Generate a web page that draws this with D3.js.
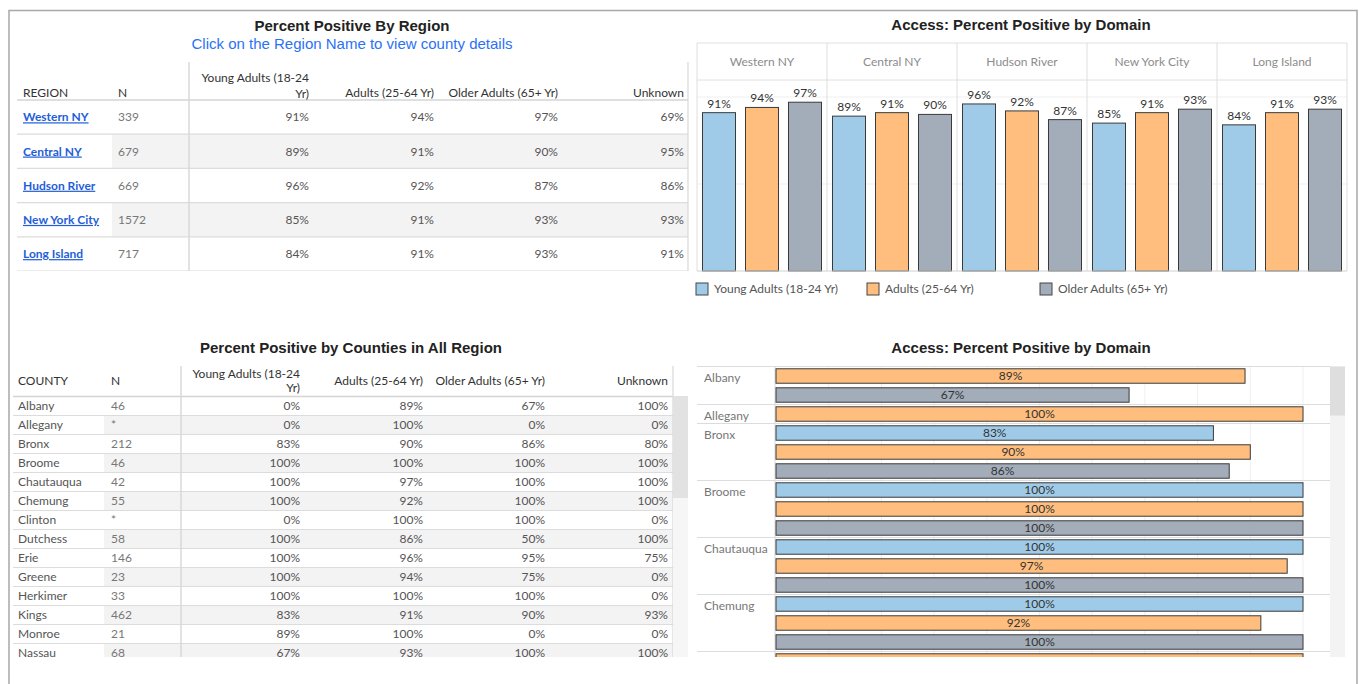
<!DOCTYPE html>
<html>
<head>
<meta charset="utf-8">
<script src="https://cdn.jsdelivr.net/npm/d3@7"></script>
<style>
  body { margin: 0; background: #fff; }
  svg text { font-family: Lato, "Open Sans", sans-serif; font-size: 12px; }
  .title { font-family: "Liberation Sans", Arial, sans-serif; font-size: 15px; font-weight: bold; fill: #222; }
</style>
</head>
<body>
<div id="chart"></div>
<script>
var width = 1359;
var height = 684;

// region table / column chart
var regions = ["Western NY", "Central NY", "Hudson River", "New York City", "Long Island"];
var regionN = [339, 679, 669, 1572, 717];
var regionYoung = [0.91, 0.89, 0.96, 0.85, 0.84];
var regionAdults = [0.94, 0.91, 0.92, 0.91, 0.91];
var regionOlder = [0.97, 0.90, 0.87, 0.93, 0.93];
var regionUnknown = [0.69, 0.95, 0.86, 0.93, 0.91];

// county table / bar chart
var counties = ["Albany", "Allegany", "Bronx", "Broome", "Chautauqua", "Chemung", "Clinton",
    "Dutchess", "Erie", "Greene", "Herkimer", "Kings", "Monroe", "Nassau"];
var countyN = ["46", "*", "212", "46", "42", "55", "*", "58", "146", "23", "33", "462", "21", "68"];
var countyYoung = [0, 0, 0.83, 1, 1, 1, 0, 1, 1, 1, 1, 0.83, 0.89, 0.67];
var countyAdults = [0.89, 1, 0.90, 1, 0.97, 0.92, 1, 0.86, 0.96, 0.94, 1, 0.91, 1, 0.93];
var countyOlder = [0.67, 0, 0.86, 1, 1, 1, 1, 0.50, 0.95, 0.75, 1, 0.90, 0, 1];
var countyUnknown = [1, 0, 0.80, 1, 1, 1, 0, 1, 0.75, 0, 0, 0.93, 0, 1];

var domains = ["Young Adults (18-24 Yr)", "Adults (25-64 Yr)", "Older Adults (65+ Yr)"];
var domainColors = ["#a0cbe8", "#ffbe7d", "#a3acb9"];

var pct = d3.format(".0%");
var colorScale = d3.scaleOrdinal().domain(domains).range(domainColors);

var svg = d3.select("#chart").append("svg")
    .attr("width", width)
    .attr("height", height);

// outer frame
svg.append("rect")
    .attr("x", 9).attr("y", 10.5)
    .attr("width", 1348).attr("height", 690)
    .attr("fill", "none").attr("stroke", "#a8a8a8").attr("stroke-width", 1.5);

// ---------- Top-left: Percent Positive By Region ----------
svg.append("text").attr("class", "title")
    .attr("x", 352).attr("y", 31).attr("text-anchor", "middle")
    .text("Percent Positive By Region");
svg.append("text")
    .attr("x", 352).attr("y", 49).attr("text-anchor", "middle")
    .style("font-family", "'Liberation Sans', Arial, sans-serif").style("font-size", "15px")
    .attr("fill", "#2a72f5")
    .text("Click on the Region Name to view county details");

var regionRows = regions.map((r, i) => ({
    name: r, n: regionN[i],
    vals: [regionYoung[i], regionAdults[i], regionOlder[i], regionUnknown[i]]
}));

var topTable = {
    left: 17, right: 688, top: 62, headBottom: 100, bottom: 271,
    nameX: 23, nX: 118, divX: 189, shadeX: 112,
    cols: [309, 434, 558, 684]
};
drawTable(topTable, regionRows, "REGION",
    d3.scaleBand().domain(regions).range([topTable.headBottom, topTable.bottom]),
    [78, 94, 93], true);

// ---------- Bottom-left: county table ----------
svg.append("text").attr("class", "title")
    .attr("x", 351).attr("y", 353).attr("text-anchor", "middle")
    .text("Percent Positive by Counties in All Region");

var countyRows = counties.map((c, i) => ({
    name: c, n: countyN[i],
    vals: [countyYoung[i], countyAdults[i], countyOlder[i], countyUnknown[i]]
}));
var botTable = {
    left: 13, right: 673, top: 366, headBottom: 396.5, bottom: 657,
    nameX: 18, nX: 111, divX: 181, shadeX: 104,
    cols: [300, 423, 545, 668]
};
drawTable(botTable, countyRows, "COUNTY",
    d3.scaleBand().domain(counties).range([396.5, 396.5 + counties.length * 19]),
    [374, 388, 381], false);

// scrollbar for county table
svg.append("rect").attr("x", 673).attr("y", 396).attr("width", 15).attr("height", 261).attr("fill", "#f6f6f6");
svg.append("rect").attr("x", 673).attr("y", 396).attr("width", 15).attr("height", 102).attr("fill", "#e2e2e2");

function drawTable(t, rows, firstHead, yRow, headY, links) {
    var g = svg.append("g");
    var clipId = "clip-" + firstHead;
    svg.append("clipPath").attr("id", clipId)
        .append("rect").attr("x", 0).attr("y", t.headBottom).attr("width", width).attr("height", t.bottom - t.headBottom);
    var body = g.append("g").attr("clip-path", "url(#" + clipId + ")");

    body.selectAll(".shade").data(rows.filter((d, i) => i % 2 === 1))
        .enter().append("rect")
        .attr("x", t.shadeX).attr("y", d => yRow(d.name))
        .attr("width", t.right - t.shadeX).attr("height", yRow.bandwidth())
        .attr("fill", "#f3f3f3");

    body.selectAll(".sep").data(rows)
        .enter().append("line")
        .attr("x1", t.left).attr("x2", t.right)
        .attr("y1", d => yRow(d.name) + yRow.bandwidth()).attr("y2", d => yRow(d.name) + yRow.bandwidth())
        .attr("stroke", "#dcdcdc").attr("stroke-width", 1.2);

    var row = body.selectAll(".row").data(rows).enter().append("g")
        .attr("transform", d => `translate(0,${yRow(d.name) + yRow.bandwidth() / 2})`);
    row.append("text")
        .attr("x", t.nameX).attr("dy", "0.35em")
        .attr("fill", links ? "#1f5ed8" : "#555")
        .style("text-decoration", links ? "underline" : null)
        .style("font-weight", links ? "bold" : null)
        .text(d => d.name);
    row.append("text")
        .attr("x", t.nX).attr("dy", "0.35em").attr("fill", "#777")
        .text(d => d.n);
    t.cols.forEach((cx, ci) => {
        row.append("text")
            .attr("x", cx).attr("dy", "0.35em").attr("text-anchor", "end").attr("fill", "#555")
            .text(d => pct(d.vals[ci]));
    });

    // header
    g.append("line").attr("x1", t.left).attr("x2", t.right).attr("y1", t.headBottom).attr("y2", t.headBottom)
        .attr("stroke", "#d4d4d4").attr("stroke-width", 1.5);
    g.append("line").attr("x1", t.divX).attr("x2", t.divX).attr("y1", t.top).attr("y2", t.bottom)
        .attr("stroke", "#d8d8d8").attr("stroke-width", 1.5);
    g.append("line").attr("x1", t.right).attr("x2", t.right).attr("y1", t.top).attr("y2", t.bottom)
        .attr("stroke", "#d8d8d8").attr("stroke-width", 1.2);

    var head = g.append("g").attr("fill", "#333");
    head.append("text").attr("x", t.nameX).attr("y", headY[2]).attr("dy", "0.35em").text(firstHead);
    head.append("text").attr("x", t.nX).attr("y", headY[2]).attr("dy", "0.35em").text("N");
    head.append("text").attr("x", t.cols[0]).attr("y", headY[0]).attr("dy", "0.35em").attr("text-anchor", "end").text("Young Adults (18-24");
    head.append("text").attr("x", t.cols[0]).attr("y", headY[1]).attr("dy", "0.35em").attr("text-anchor", "end").text("Yr)");
    head.append("text").attr("x", t.cols[1]).attr("y", headY[2]).attr("dy", "0.35em").attr("text-anchor", "end").text("Adults (25-64 Yr)");
    head.append("text").attr("x", t.cols[2]).attr("y", headY[2]).attr("dy", "0.35em").attr("text-anchor", "end").text("Older Adults (65+ Yr)");
    head.append("text").attr("x", t.cols[3]).attr("y", headY[2]).attr("dy", "0.35em").attr("text-anchor", "end").text("Unknown");
}

// ---------- Top-right: grouped column chart ----------
svg.append("text").attr("class", "title")
    .attr("x", 1021).attr("y", 30).attr("text-anchor", "middle")
    .text("Access: Percent Positive by Domain");

var colX0 = d3.scaleBand().domain(regions).range([697, 1347]);
var colX1 = d3.scaleBand().domain(domains).range([0, colX0.bandwidth()])
    .paddingInner(0.2326).paddingOuter(0.128);
var colY = d3.scaleLinear().domain([0, 1]).range([271, 97]);

var colChart = svg.append("g");
colChart.selectAll(".grid").data([0.5, 1]).enter().append("line")
    .attr("x1", 697).attr("x2", 1347).attr("y1", d => colY(d)).attr("y2", d => colY(d))
    .attr("stroke", "#efefef");
colChart.append("line").attr("x1", 697).attr("x2", 1347).attr("y1", 43).attr("y2", 43).attr("stroke", "#e0e0e0");
colChart.append("line").attr("x1", 697).attr("x2", 1347).attr("y1", 80).attr("y2", 80).attr("stroke", "#e0e0e0");
colChart.selectAll(".vdiv").data(regions.concat(["_end"])).enter().append("line")
    .attr("x1", (d, i) => 697 + i * colX0.step()).attr("x2", (d, i) => 697 + i * colX0.step())
    .attr("y1", 43).attr("y2", 271).attr("stroke", "#dedede");
colChart.selectAll(".rhead").data(regions).enter().append("text")
    .attr("x", d => colX0(d) + colX0.bandwidth() / 2).attr("y", 62).attr("dy", "0.35em")
    .attr("text-anchor", "middle").attr("fill", "#8c8c8c")
    .text(d => d);

var colBars = [];
regions.forEach((r, i) => {
    [regionYoung[i], regionAdults[i], regionOlder[i]].forEach((v, j) => {
        colBars.push({ region: r, domain: domains[j], value: v });
    });
});
colChart.selectAll(".cbar").data(colBars).enter().append("rect")
    .attr("x", d => colX0(d.region) + colX1(d.domain))
    .attr("y", d => colY(d.value))
    .attr("width", colX1.bandwidth())
    .attr("height", d => colY(0) - colY(d.value))
    .attr("fill", d => colorScale(d.domain))
    .attr("stroke", "#3a3a3a").attr("stroke-width", 1);
colChart.selectAll(".clabel").data(colBars).enter().append("text")
    .attr("x", d => colX0(d.region) + colX1(d.domain) + colX1.bandwidth() / 2)
    .attr("y", d => colY(d.value) - 5)
    .attr("text-anchor", "middle").attr("fill", "#333")
    .text(d => pct(d.value));
colChart.append("line").attr("x1", 697).attr("x2", 1347).attr("y1", 271).attr("y2", 271).attr("stroke", "#cfcfcf");

// legend
var legendX = [696, 867, 1040];
var legend = svg.selectAll(".legend").data(domains).enter().append("g")
    .attr("transform", (d, i) => `translate(${legendX[i]},283)`);
legend.append("rect").attr("width", 12).attr("height", 12)
    .attr("fill", d => colorScale(d)).attr("stroke", "#444");
legend.append("text").attr("x", 18).attr("y", 6).attr("dy", "0.35em").attr("fill", "#555").text(d => d);

// ---------- Bottom-right: horizontal bars by county ----------
svg.append("text").attr("class", "title")
    .attr("x", 1021).attr("y", 353).attr("text-anchor", "middle")
    .text("Access: Percent Positive by Domain");

var hBars = [];
var groups = [];
counties.forEach((c, i) => {
    var start = hBars.length;
    [countyYoung[i], countyAdults[i], countyOlder[i]].forEach((v, j) => {
        if (v > 0) hBars.push({ key: c + "|" + j, county: c, domain: domains[j], value: v });
    });
    groups.push({ county: c, start: start, end: hBars.length });
});

var hTop = 366.5, hBottom = 657, slot = 19;
var hX = d3.scaleLinear().domain([0, 1]).range([776, 1303]);
var hY = d3.scaleBand().domain(hBars.map(d => d.key))
    .range([hTop, hTop + hBars.length * slot]).paddingInner(0.24).paddingOuter(0.12);

// only the part of the scrolled list that is inside the view
var visBars = hBars.filter(d => hY(d.key) < hBottom);
var visGroups = groups.filter(d => hTop + d.start * slot < hBottom);

svg.append("clipPath").attr("id", "clip-h")
    .append("rect").attr("x", 690).attr("y", hTop - 1).attr("width", 660).attr("height", hBottom - hTop + 1);
var hChart = svg.append("g").attr("clip-path", "url(#clip-h)");

hChart.selectAll(".vgrid").data(d3.range(1, 11).map(d => d / 10)).enter().append("line")
    .attr("x1", d => hX(d)).attr("x2", d => hX(d)).attr("y1", hTop).attr("y2", hBottom)
    .attr("stroke", "#efefef");
hChart.append("line").attr("x1", 775).attr("x2", 775).attr("y1", hTop).attr("y2", hBottom).attr("stroke", "#d8d8d8");
hChart.selectAll(".gsep").data([{ end: 0 }].concat(visGroups)).enter().append("line")
    .attr("x1", 697).attr("x2", 1330)
    .attr("y1", d => hTop + d.end * slot).attr("y2", d => hTop + d.end * slot)
    .attr("stroke", "#dcdcdc").attr("stroke-width", 1.2);
hChart.selectAll(".glabel").data(visGroups.filter(d => hTop + d.start * slot + slot < hBottom)).enter().append("text")
    .attr("x", 704).attr("y", d => hTop + d.start * slot + slot / 2 + 2).attr("dy", "0.35em")
    .attr("fill", "#777")
    .text(d => d.county);
hChart.selectAll(".hbar").data(visBars).enter().append("rect")
    .attr("x", hX(0))
    .attr("y", d => hY(d.key))
    .attr("width", d => hX(d.value) - hX(0))
    .attr("height", hY.bandwidth())
    .attr("fill", d => colorScale(d.domain))
    .attr("stroke", "#3a3a3a").attr("stroke-width", 1);
hChart.selectAll(".hlabel").data(visBars).enter().append("text")
    .attr("x", d => (hX(0) + hX(d.value)) / 2)
    .attr("y", d => hY(d.key) + hY.bandwidth() / 2).attr("dy", "0.35em")
    .attr("text-anchor", "middle").attr("fill", "#333")
    .text(d => pct(d.value));

// scrollbar for bar chart
svg.append("rect").attr("x", 1330).attr("y", hTop).attr("width", 15).attr("height", hBottom - hTop).attr("fill", "#f3f3f3");
svg.append("rect").attr("x", 1330).attr("y", hTop).attr("width", 15).attr("height", 49).attr("fill", "#dedede");
</script>
</body>
</html>
